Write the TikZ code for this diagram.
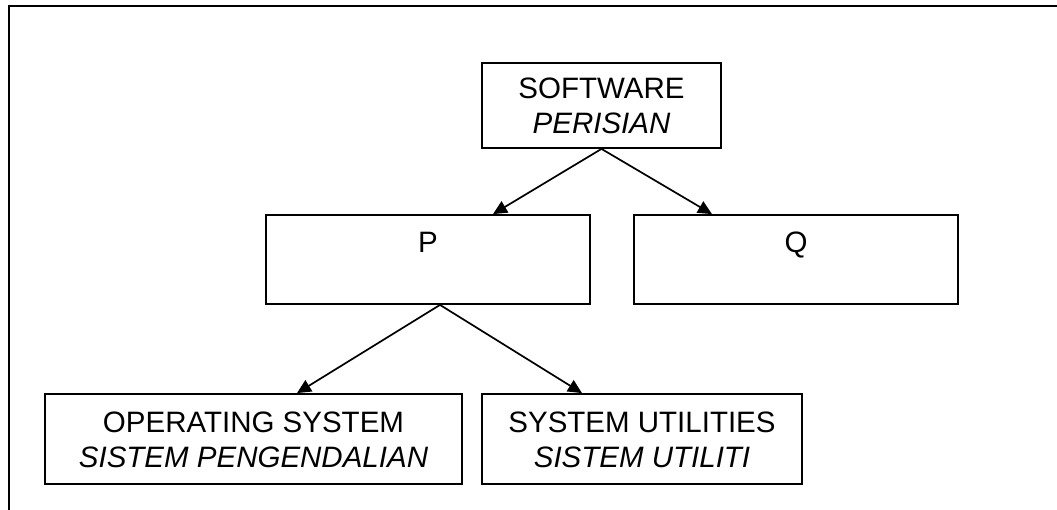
\documentclass[tikz,border=0pt]{standalone}
\usepackage{fontspec}
\setmainfont{Liberation Sans}
\usetikzlibrary{arrows.meta}

\newcommand{\twolines}[2]{\rule{0pt}{24bp}#1\\\rule[-2.5bp]{0pt}{2.5bp}{\itshape #2}}

\begin{document}
\begin{tikzpicture}[x=1bp,y=-1bp,
    box/.style={draw,line width=1.8bp,minimum width=#1,minimum height=89bp,inner sep=0pt,align=center,font=\fontsize{29.5bp}{34.5bp}\selectfont},
    link/.style={line width=1.7bp,-{Triangle[length=14bp,width=13bp]}}]
            \useasboundingbox (0,0) rectangle (1057,510);
            \draw[line width=2.2bp] (9,510) -- (9,6) -- (1057,6);
            \node[box=239bp,minimum height=85bp] (software) at (601.5,105.5) {\twolines{SOFTWARE}{PERISIAN}};
            \node[box=324bp] (p) at (428,259.5) {\twolines{P}{}};
            \node[box=324bp] (q) at (796,259.5) {\twolines{Q}{}};
            \node[box=417bp,minimum height=90bp] (os) at (253.5,439) {\twolines{OPERATING SYSTEM}{SISTEM PENGENDALIAN}};
            \node[box=320bp,minimum height=90bp] (util) at (642,439) {\twolines{SYSTEM UTILITIES}{SISTEM UTILITI}};
            \draw[link] (software.south) -- ([xshift=65bp]p.north);
            \draw[link] (software.south) -- ([xshift=-84bp]q.north);
            \draw[link] ([xshift=12bp]p.south) -- ([xshift=43.5bp]os.north);
            \draw[link] ([xshift=12bp]p.south) -- ([xshift=-60bp]util.north);
\end{tikzpicture}
\end{document}
